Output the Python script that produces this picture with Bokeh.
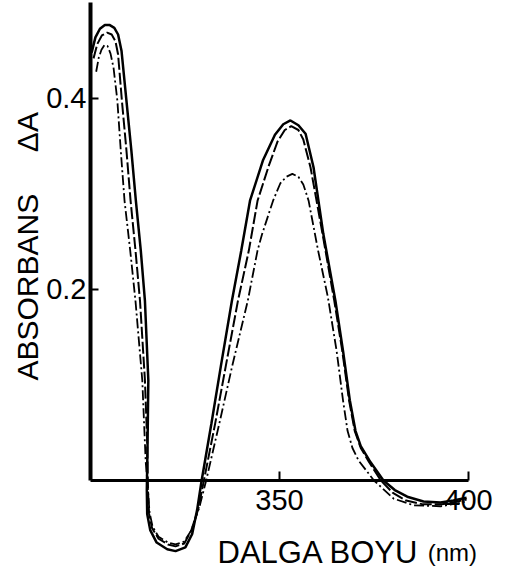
import math
from bokeh.plotting import figure
from bokeh.models import Range1d, FixedTicker, Label
from bokeh.embed import file_html
from bokeh.resources import INLINE

# ---- data (wavelength nm, absorbance dA) ----
solid_x = [300.3, 301.3, 302.5, 303.8, 305.0, 306.3, 307.3, 308.2, 309.5, 310.8,
           312.0, 313.3, 314.4, 315.3, 315.1, 314.9, 315.0, 315.8, 317.5, 320.3,
           322.5, 325.1, 326.9, 328.2, 329.4, 332.0, 334.5, 337.4, 339.9, 342.2,
           345.6, 348.8, 351.0, 352.9, 355.0, 356.9, 359.0, 361.6, 364.8, 366.8,
           368.6, 370.1, 371.5, 374.1, 377.5, 380.5, 383.8, 388.1, 392.6, 396.0, 399.5]
solid_y = [0.448, 0.464, 0.473, 0.477, 0.477, 0.474, 0.467, 0.450, 0.398, 0.346,
           0.293, 0.241, 0.188, 0.105, 0.040, -0.010, -0.035, -0.052, -0.065, -0.072,
           -0.074, -0.070, -0.056, -0.031, 0.000, 0.060, 0.120, 0.188, 0.241, 0.293,
           0.335, 0.362, 0.373, 0.377, 0.372, 0.363, 0.328, 0.258, 0.188, 0.136,
           0.084, 0.052, 0.036, 0.019, 0.000, -0.010, -0.017, -0.022, -0.023, -0.021, -0.018]

dash_x = [300.8, 301.8, 303.0, 304.4, 305.6, 306.6, 307.3, 308.3, 309.5, 310.6,
          311.9, 313.1, 314.4, 315.0, 315.2, 315.5, 316.3, 318.0, 320.5, 322.5,
          324.8, 326.6, 328.5, 330.0, 333.0, 335.8, 339.0, 341.9, 344.2, 347.2,
          349.5, 351.4, 353.1, 355.0, 356.3, 358.2, 361.4, 364.5, 366.6, 368.4,
          369.9, 371.5, 373.6, 376.8, 380.0, 383.5, 388.0, 393.0, 397.0, 399.5]
dash_y = [0.442, 0.457, 0.466, 0.469, 0.467, 0.460, 0.446, 0.398, 0.346, 0.293,
          0.241, 0.188, 0.105, 0.040, -0.010, -0.035, -0.050, -0.061, -0.067, -0.069,
          -0.066, -0.053, -0.030, 0.000, 0.060, 0.120, 0.188, 0.241, 0.293, 0.330,
          0.355, 0.367, 0.371, 0.367, 0.357, 0.328, 0.258, 0.188, 0.136, 0.084,
          0.052, 0.034, 0.020, 0.000, -0.013, -0.021, -0.025, -0.025, -0.022, -0.020]

dashdot_x = [301.5, 302.2, 302.9, 303.7, 304.5, 305.3, 306.1, 307.1, 308.0, 309.0,
             310.5, 311.9, 313.7, 314.6, 315.2, 315.6, 316.4, 318.0, 320.5, 322.5,
             324.8, 326.7, 328.8, 330.6, 334.1, 337.5, 341.6, 344.2, 345.4, 348.3,
             350.2, 351.8, 353.4, 355.0, 356.3, 357.7, 360.2, 362.8, 365.1, 366.8,
             368.0, 369.3, 370.9, 375.0, 380.2, 385.5, 392.6, 397.0, 399.5]
dashdot_y = [0.428, 0.443, 0.451, 0.456, 0.455, 0.447, 0.432, 0.398, 0.346, 0.293,
             0.241, 0.188, 0.105, 0.020, -0.010, -0.033, -0.048, -0.059, -0.065, -0.067,
             -0.064, -0.052, -0.028, 0.000, 0.060, 0.120, 0.188, 0.241, 0.258, 0.293,
             0.311, 0.318, 0.321, 0.318, 0.310, 0.293, 0.241, 0.192, 0.136, 0.084,
             0.052, 0.034, 0.021, 0.000, -0.019, -0.026, -0.027, -0.024, -0.022]

x_ticks = [350, 400]
y_ticks = [0.2, 0.4]
x_label = "DALGA BOYU"
x_unit = "(nm)"
y_label = "ABSORBANS"
y_symbol = "ΔA"

FONT = "Liberation Sans"

p = figure(width=527, height=575, output_backend="svg", toolbar_location=None,
           x_range=Range1d(276.19, 415.61), y_range=Range1d(-0.0995, 0.5026),
           min_border=0)
p.outline_line_color = None
p.grid.visible = False
p.background_fill_color = "white"
p.border_fill_color = "white"

ax = p.xaxis[0]
ax.fixed_location = 0
ax.bounds = (300, 400)
ax.ticker = FixedTicker(ticks=x_ticks)
ax.major_tick_in = 9
ax.major_tick_out = 0
ax.major_tick_line_width = 2
ax.minor_tick_line_color = None
ax.axis_line_width = 3
ax.major_label_text_font = FONT
ax.major_label_text_font_size = "29px"
ax.major_label_text_color = "black"
ax.major_label_standoff = 10

ay = p.yaxis[0]
ay.fixed_location = 300
ay.bounds = (0, 0.5)
ay.ticker = FixedTicker(ticks=y_ticks)
ay.major_tick_in = 8
ay.major_tick_out = 0
ay.major_tick_line_width = 2
ay.minor_tick_line_color = None
ay.axis_line_width = 4
ay.major_label_text_font = FONT
ay.major_label_text_font_size = "29px"
ay.major_label_text_color = "black"
ay.major_label_standoff = 4

p.line(solid_x, solid_y, line_color="black", line_width=2.5)
p.line(dash_x, dash_y, line_color="black", line_width=2, line_dash="12 3")
p.line(dashdot_x, dashdot_y, line_color="black", line_width=1.8, line_dash="10 3 2 3")

p.add_layout(Label(x=333.6, y=-0.0754, text=x_label, text_font=FONT,
                   text_font_size="31px", text_color="black",
                   text_align="left", text_baseline="alphabetic"))
p.add_layout(Label(x=389.2, y=-0.0754, text=x_unit, text_font=FONT,
                   text_font_size="24px", text_color="black",
                   text_align="left", text_baseline="alphabetic"))
p.add_layout(Label(x=283.3, y=0.1047, text=y_label, text_font=FONT,
                   text_font_size="30px", text_color="black", angle=math.pi / 2,
                   text_align="left", text_baseline="alphabetic"))
p.add_layout(Label(x=283.3, y=0.3438, text=y_symbol, text_font=FONT,
                   text_font_size="30px", text_color="black", angle=math.pi / 2,
                   text_align="left", text_baseline="alphabetic"))

open("out.html", "w").write(file_html(p, INLINE))
